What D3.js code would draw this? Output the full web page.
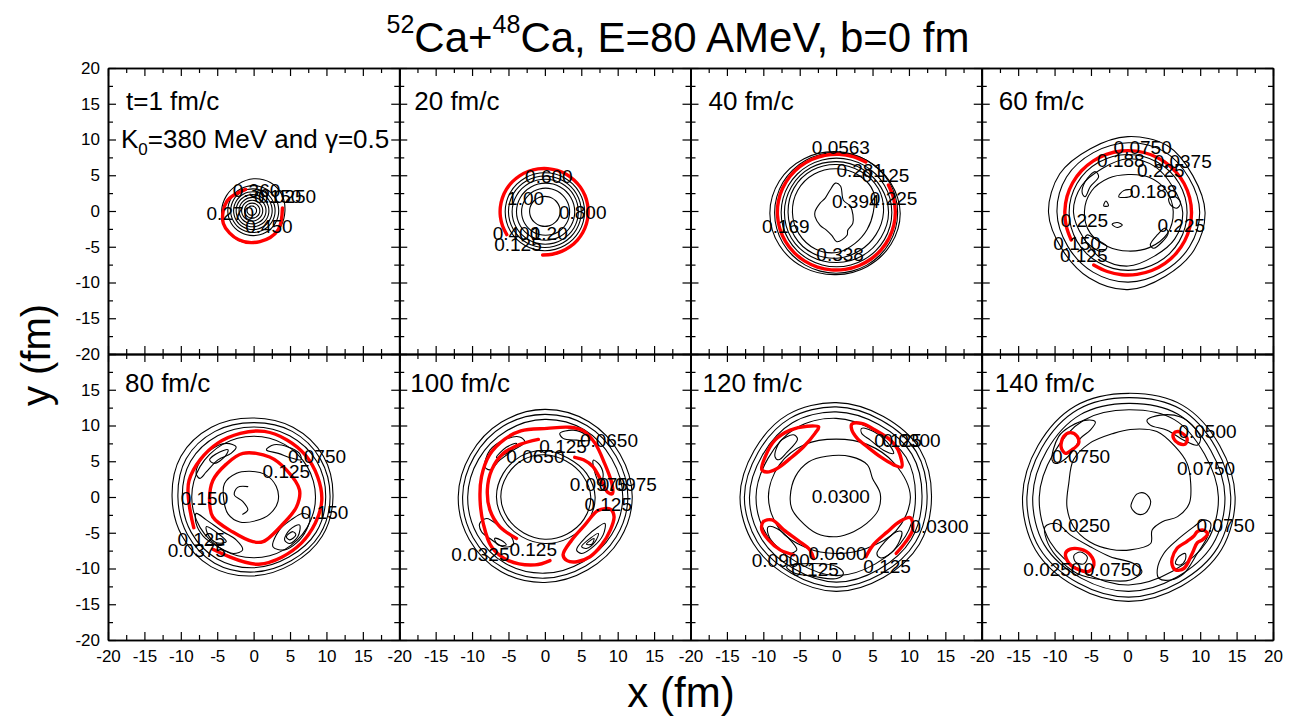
<!DOCTYPE html>
<html>
<head>
<meta charset="utf-8">
<script src="https://cdn.jsdelivr.net/npm/d3@7"></script>
<style>
  body { margin: 0; background: #fff; }
  text { font-family: "Liberation Sans", Arial, sans-serif; fill: #000; }
</style>
</head>
<body>
<svg id="chart" width="1298" height="721"></svg>
<script>
// ---- panel captions -------------------------------------------------------
const panelTimes = ["t=1 fm/c", "20 fm/c", "40 fm/c", "60 fm/c",
                    "80 fm/c", "100 fm/c", "120 fm/c", "140 fm/c"];

// ---- axis ticks (fm) ------------------------------------------------------
const majorTicks = [-20, -15, -10, -5, 0, 5, 10, 15, 20];
const minorTicks = [-17.5, -12.5, -7.5, -2.5, 2.5, 7.5, 12.5, 17.5];

// ---- density contours -----------------------------------------------------
// rings: centre c (fm) and radii r (fm) at evenly spaced polar angles;
// "span" gives the angular extent (deg) of an open contour.
// shapes: contour polylines given as (x, y) points in fm.

const rings1 = [
  {c: [0, 0], r: [4.3, 4.5, 4.6, 4.5, 4.3, 4.3, 4.4, 4.5, 4.6, 4.5, 4.3, 4.3]},
  {c: [-0.05, 0.05], r: [3.5]},
  {c: [-0.1, 0.05], r: [3.05]},
  {c: [-0.1, 0.05], r: [2.65]},
  {c: [-0.15, 0.05], r: [2.25]},
  {c: [-0.15, 0.05], r: [1.85]},
  {c: [-0.2, 0.05], r: [1.45]},
  {c: [-0.2, 0.05], r: [1.05]},
  {c: [-0.25, 0.05], r: [0.65]},
  {c: [-0.1, -0.65], r: [3.8, 4.1, 4.2, 3.9, 3.75, 4.0, 4.2], red: true, span: [105, 375]}
];
const shapes1 = [];
const labels1 = [
  {t: "0.360", x: 0.4, y: 2.9}, {t: "0.150", x: 3.3, y: 2.0}, {t: "0.0250", x: 4.6, y: 2.0},
  {t: "0.270", x: -3.2, y: -0.3}, {t: "0.450", x: 2.1, y: -2.1}
];

const rings2 = [
  {c: [0, -0.1], r: [5.45]},
  {c: [0, -0.1], r: [5.0]},
  {c: [0.05, -0.1], r: [4.55]},
  {c: [0.1, -0.1], r: [4.0]},
  {c: [0.1, -0.1], r: [3.3]},
  {c: [0, -0.05], r: [2.1]},
  {c: [-0.1, -0.1], r: [6.05], red: true, span: [-92, 212]}
];
const shapes2 = [];
const labels2 = [
  {t: "0.600", x: 0.55, y: 4.8}, {t: "1.00", x: -2.65, y: 1.8}, {t: "0.800", x: 5.2, y: -0.2},
  {t: "0.400", x: -3.9, y: -3.1}, {t: "1.20", x: 0.6, y: -3.1}, {t: "0.125", x: -3.7, y: -4.75}
];

const rings3 = [
  {c: [0, -0.3], r: [8.8, 8.6, 8.5, 8.6, 8.8, 9.0, 9.1, 9.0, 8.8, 8.6, 8.6, 8.7]},
  {c: [0, -0.25], r: [8.45]},
  {c: [0.05, -0.2], r: [7.6]},
  {c: [0.1, -0.2], r: [7.1, 7.0, 7.0, 7.1, 7.2, 7.2, 7.2, 7.2, 7.1, 7.0, 7.0, 7.0]},
  {c: [0.1, -0.2], r: [6.4, 6.6, 6.6, 6.7, 6.8, 6.8, 6.7, 6.7, 6.6, 6.4, 6.2, 6.2]},
  {c: [0.1, -0.2], r: [5.0, 5.8, 6.0, 6.1, 6.2, 6.2, 6.1, 6.0, 5.9, 5.6, 5.0, 4.8]},
  {c: [0.03, -0.16], r: [8.1], red: true, span: [60, 388]}
];
const shapes3 = [
  {pts: [[-2.9, -0.1], [-2.2, 1.1], [-1.5, 1.8], [-0.85, 2.9], [-0.1, 3.9], [0.6, 3.5], [1.0, 1.5],
         [2.0, 0.6], [2.3, -1.7], [1.6, -2.7], [1.5, -3.4], [0.1, -4.3], [-0.6, -3.4], [-1.3, -2.7],
         [-2.2, -2.0], [-2.9, -0.8]]}
];
const labels3 = [
  {t: "0.0563", x: 0.65, y: 8.9}, {t: "0.281", x: 3.3, y: 5.7}, {t: "0.125", x: 6.8, y: 5.0},
  {t: "0.394", x: 2.7, y: 1.3}, {t: "0.225", x: 7.9, y: 1.8}, {t: "0.169", x: -6.9, y: -2.2},
  {t: "0.338", x: 0.55, y: -6.15}
];

const rings4 = [
  {c: [0.07, -0.2], r: [10.6, 10.3, 10.8, 10.6, 10.3, 10.8, 10.9, 10.4, 10.6, 10.8, 10.3, 10.5]},
  {c: [0.13, -0.15], r: [9.8, 9.6, 9.8, 9.7, 9.6, 9.8, 9.8, 9.6, 9.7, 9.8, 9.6, 9.7]},
  {c: [0.1, -0.2], r: [8.1]},
  {c: [0.1, -0.2], r: [7.5, 7.1, 7.4, 7.5, 7.1, 7.4, 7.5, 7.1, 7.4, 7.5, 7.1, 7.4]},
  {c: [0.1, -0.1], r: [6.2, 6.0, 5.6, 5.2, 5.4, 5.8, 6.0, 6.0, 5.6, 5.5, 5.8, 6.2]},
  {c: [0.11, -0.25], r: [8.7], red: true, span: [237, 566]}
];
const shapes4 = [
  {pts: [[-6.2, 2.5], [-5.8, 4.1], [-4.4, 5.5], [-3.95, 4.8], [-5.1, 3.4], [-5.8, 2.0]]},
  {pts: [[3.15, -4.75], [4.1, -3.35], [5.2, -2.4], [5.6, -3.1], [4.8, -4.3], [3.6, -5.2]]},
  {pts: [[5.7, 1.8], [6.6, 2.0], [7.3, 1.1], [6.8, 0.4], [5.9, 0.9]]},
  {pts: [[-5.55, -3.35], [-4.15, -4.05], [-2.8, -5.0], [-3.5, -5.7], [-4.9, -5.0], [-5.8, -4.05]]},
  {pts: [[-1.2, 2.0], [-0.5, 2.85], [0.6, 2.9], [0.5, 2.1]]},
  {pts: [[-3.25, 0.7], [-2.95, 1.4], [-2.6, 0.75]]},
  {pts: [[-2.1, -1.86], [-1.4, -1.6], [-0.7, -1.95], [-1.4, -2.3]]}
];
const labels4 = [
  {t: "0.0750", x: 2.1, y: 8.9}, {t: "0.188", x: -0.9, y: 7.1}, {t: "0.0375", x: 7.6, y: 6.9},
  {t: "0.225", x: 4.6, y: 5.7}, {t: "0.188", x: 3.6, y: 2.7}, {t: "0.225", x: -5.9, y: -1.3},
  {t: "0.225", x: 7.4, y: -2.0}, {t: "0.150", x: -6.9, y: -4.5}, {t: "0.125", x: -6.0, y: -6.2}
];

const rings5 = [
  {c: [-0.2, 0.05], r: [11.1, 11.3, 11.2, 11.0, 11.2, 11.3, 11.0, 11.1, 11.3, 11.1, 10.9, 11.1]},
  {c: [0, 0], r: [10.5, 10.6, 10.6, 10.4, 10.6, 10.7, 10.4, 10.5, 10.7, 10.5, 10.3, 10.5]},
  {c: [0, 0], r: [9.9, 10.0, 9.9, 9.8, 9.9, 10.0, 9.8, 9.9, 10.0, 9.9, 9.7, 9.9]},
  {c: [0, 0], r: [8.5]},
  {c: [0.07, -0.07], r: [9.2, 9.35, 9.1, 9.3, 9.2, 9.35, 9.1, 9.25, 9.3], red: true, span: [232, 567]}
];
const shapes5 = [
  {red: true, pts: [[-1.47, 6.1], [2.2, 5.6], [4.5, 3.8], [6.3, 1.0], [5.9, -1.35], [4.1, -3.7], [1.3, -6.25],
                    [-0.1, -6.25], [-2.85, -4.9], [-5.6, -2.8], [-6.05, -0.5], [-5.6, 2.3], [-3.75, 4.6]]},
  {pts: [[-4.0, 1.9], [-2.4, 3.3], [-0.55, 3.6], [1.5, 3.2], [3.1, 1.5], [3.35, -0.6], [2.2, -2.4],
         [0.4, -3.3], [-1.9, -3.5], [-3.5, -2.4], [-4.1, -0.4]]},
  {open: true, pts: [[-0.8, 1.45], [-2.2, 1.35], [-2.65, 0.3], [-1.5, -0.6], [-0.8, -1.8], [-1.5, -2.4]]},
  {pts: [[-7.9, 3.3], [-7.4, 4.9], [-6.05, 6.5], [-3.75, 7.5], [-2.4, 7.0], [-3.1, 6.1], [-4.9, 5.2],
         [-6.5, 3.5], [-7.4, 2.6]]},
  {pts: [[-6.05, 5.2], [-4.65, 6.3], [-3.5, 6.6], [-4.0, 5.6], [-5.4, 4.7]]},
  {pts: [[1.75, 6.6], [2.8, 7.3], [4.7, 7.0], [6.3, 6.1], [6.5, 5.2], [5.2, 5.45], [3.4, 6.1]]},
  {pts: [[-7.9, -2.3], [-6.5, -3.2], [-4.2, -4.85], [-2.4, -6.0], [-1.5, -7.4], [-2.8, -7.9], [-5.0, -6.9],
         [-6.9, -5.5], [-7.9, -3.7]]},
  {pts: [[-6.5, -4.15], [-4.9, -5.1], [-3.75, -6.25], [-5.1, -6.4], [-6.25, -5.3]]},
  {pts: [[2.65, -6.95], [3.55, -4.6], [5.15, -3.2], [6.75, -2.3], [7.7, -2.75], [7.25, -4.6], [5.85, -6.45],
         [4.25, -7.4]]},
  {pts: [[4.25, -6.0], [4.95, -4.6], [6.3, -3.9], [6.1, -5.5], [4.95, -6.5]]},
  {pts: [[4.5, -5.55], [5.4, -4.85], [5.8, -5.3], [4.95, -6.0]]}
];
const labels5 = [
  {t: "0.0750", x: 8.7, y: 5.7}, {t: "0.125", x: 4.5, y: 3.55}, {t: "0.150", x: -6.75, y: -0.2},
  {t: "0.150", x: 9.75, y: -2.15}, {t: "0.125", x: -7.2, y: -6.0}, {t: "0.0375", x: -7.8, y: -7.5}
];

const rings6 = [
  {c: [0, 0.05], r: [12.0, 11.9, 12.1, 12.2, 12.0, 11.8, 11.9, 12.0, 12.1, 12.0, 11.8, 11.9]},
  {c: [0, 0.05], r: [11.4, 11.3, 11.5, 11.5, 11.4, 11.2, 11.3, 11.4, 11.5, 11.4, 11.2, 11.3]},
  {c: [0, 0.05], r: [10.7, 10.6, 10.8, 10.8, 10.6, 10.5, 10.6, 10.7, 10.8, 10.7, 10.5, 10.6]},
  {c: [0, 0], r: [6.9, 6.6, 6.3, 6.5, 6.6, 6.6, 6.65, 6.5, 6.4, 6.5, 6.6, 6.8]},
  {c: [0, 0], r: [6.3, 6.0, 5.8, 5.9, 6.0, 6.0, 6.05, 5.9, 5.8, 5.9, 6.0, 6.2]}
];
const shapes6 = [
  {red: true, open: true,
   pts: [[0.7, -8.9], [-1.35, -9.5], [-5.0, -8.9], [-7.3, -7.0], [-8.45, -3.75], [-8.9, -0.4], [-8.7, 2.85],
         [-7.6, 5.9], [-5.5, 8.1], [-3.3, 9.25], [0.3, 9.6], [3.4, 9.75], [5.3, 9.25], [6.9, 7.5], [8.2, 4.7],
         [9.2, 1.9], [9.3, 0.5], [8.7, 0.6], [7.8, 2.15], [6.6, 4.25], [5.3, 5.2], [4.1, 5.55]]},
  {red: true, open: true,
   pts: [[-3.9, -5.8], [-6.2, -4.15], [-7.55, -1.8], [-7.9, 1.0], [-7.3, 3.8], [-5.7, 6.1], [-3.4, 7.35], [-0.9, 8.05]]},
  {red: true,
   pts: [[2.5, -8.1], [3.7, -6.0], [5.5, -3.9], [7.3, -1.9], [9.0, -1.7], [9.5, -2.75], [9.0, -4.6], [7.8, -6.7],
         [6.2, -8.35], [4.4, -9.05], [3.05, -8.9]]},
  {pts: [[-8.25, 4.25], [-7.55, 6.55], [-5.7, 7.95], [-3.45, 8.4], [-2.75, 7.7], [-4.35, 6.55], [-6.2, 5.15], [-7.55, 3.8]]},
  {pts: [[-6.65, 5.55], [-5.3, 6.95], [-3.9, 7.5], [-4.6, 6.5]]},
  {pts: [[2.05, 8.9], [3.9, 9.35], [5.7, 8.65], [6.2, 7.95], [4.35, 7.95], [2.5, 8.2]]},
  {pts: [[6.65, 5.15], [7.55, 4.45], [8.0, 2.85], [7.55, 1.9], [6.9, 3.3]]},
  {pts: [[-8.95, -3.7], [-8.0, -3.0], [-6.2, -4.15], [-4.6, -5.55], [-4.35, -6.7], [-5.7, -6.95], [-7.55, -5.8], [-8.7, -4.85]]},
  {pts: [[-6.9, -5.8], [-6.0, -6.05], [-5.3, -6.7], [-6.45, -6.7]]},
  {pts: [[4.35, -7.4], [5.7, -5.55], [7.35, -4.15], [8.25, -3.7], [8.0, -5.3], [6.65, -6.95], [5.05, -7.9]]},
  {pts: [[5.05, -6.95], [6.2, -5.8], [7.35, -5.1], [6.9, -6.25], [5.7, -7.2]]},
  {pts: [[5.7, -6.6], [6.75, -5.8], [6.45, -6.6]]}
];
const labels6 = [
  {t: "0.125", x: 2.5, y: 7.0}, {t: "0.0650", x: 8.8, y: 7.9}, {t: "0.0650", x: -1.3, y: 5.7},
  {t: "0.0975", x: 7.4, y: 1.8}, {t: "0.0975", x: 11.4, y: 1.8}, {t: "0.125", x: 8.7, y: -1.1},
  {t: "0.0325", x: -8.85, y: -8.0}, {t: "0.125", x: -1.6, y: -7.3}
];

const rings7 = [
  {c: [0, 0], r: [13.1, 13.3, 13.0, 13.2, 13.3, 13.0, 13.2, 13.1, 12.9, 13.2, 13.0, 13.2]},
  {c: [0, 0], r: [12.5, 12.7, 12.4, 12.6, 12.7, 12.4, 12.6, 12.5, 12.3, 12.6, 12.4, 12.6]},
  {c: [0, 0], r: [11.8, 12.0, 11.7, 11.9, 12.0, 11.7, 11.9, 11.8, 11.6, 11.9, 11.7, 11.9]},
  {c: [0, 0], r: [10.9, 11.1, 10.7, 11.0, 11.1, 10.8, 11.0, 10.9, 10.6, 11.0, 10.8, 11.0]},
  {c: [0, 0], r: [10.2, 9.3, 8.5, 8.1, 8.5, 9.0, 9.3, 9.0, 8.2, 7.9, 8.3, 9.5]}
];
const shapes7 = [
  {red: true,
   pts: [[-10.2, 3.8], [-9.75, 5.6], [-8.4, 7.95], [-6.3, 9.35], [-4.0, 9.9], [-2.4, 9.8], [-2.9, 8.9],
         [-4.5, 7.0], [-6.3, 5.4], [-8.1, 4.0], [-9.5, 3.5]]},
  {red: true,
   pts: [[2.15, 10.2], [3.5, 10.3], [5.3, 9.4], [7.4, 8.0], [8.5, 6.6], [9.0, 4.2], [7.9, 4.5], [6.1, 5.6],
         [4.3, 7.0], [2.9, 8.2], [2.15, 9.4]]},
  {red: true, open: true,
   pts: [[-5.85, -8.1], [-7.7, -7.4], [-9.3, -6.0], [-10.2, -4.6], [-10.0, -3.45], [-8.8, -3.2], [-7.2, -4.6],
         [-5.2, -6.1], [-3.6, -7.4], [-3.1, -8.6]]},
  {red: true, open: true,
   pts: [[4.1, -8.35], [5.1, -6.7], [6.95, -4.95], [8.8, -3.4], [10.2, -2.9], [10.5, -4.6], [9.5, -6.35], [8.25, -7.9]]},
  {pts: [[-6.3, 0.05], [-5.6, 2.85], [-3.8, 4.9], [-1.3, 5.7], [2.0, 5.65], [4.3, 4.5], [5.0, 2.6], [6.05, 0.5],
         [5.8, -1.8], [4.2, -3.7], [2.4, -4.85], [0.1, -5.55], [-2.65, -5.1], [-5.0, -3.2], [-6.1, -1.6]]},
  {pts: [[-8.4, 5.65], [-7.7, 7.75], [-5.85, 8.7], [-5.3, 8.1], [-6.8, 6.2], [-7.9, 5.2]]},
  {pts: [[3.5, 9.6], [5.15, 9.15], [6.95, 7.75], [7.9, 6.1], [6.5, 6.55], [4.7, 7.95], [3.5, 8.9]]},
  {pts: [[-9.3, -4.15], [-8.15, -4.4], [-6.1, -6.25], [-5.4, -7.4], [-6.5, -7.9], [-8.1, -6.95], [-9.3, -5.3]]},
  {pts: [[-6.8, -9.75], [-3.1, -9.3], [0.1, -9.75], [1.0, -10.7], [0.1, -11.4], [-3.1, -11.1], [-5.85, -10.6]]},
  {pts: [[5.6, -7.9], [6.7, -6.25], [8.3, -4.85], [9.0, -4.85], [8.55, -6.5], [7.15, -8.15], [6.05, -8.5]]}
];
const labels7 = [
  {t: "0.125", x: 8.5, y: 7.9}, {t: "0.0300", x: 10.35, y: 7.9}, {t: "0.0300", x: 0.65, y: 0.05},
  {t: "0.0300", x: 14.2, y: -4.15}, {t: "0.0600", x: 0.2, y: -7.9}, {t: "0.0900", x: -7.6, y: -8.9},
  {t: "0.125", x: -2.9, y: -10.1}, {t: "0.125", x: 7.0, y: -9.75}
];

const rings8 = [
  {c: [0.2, 0], r: [14.6, 14.4, 14.8, 14.5, 14.7, 14.4, 14.6, 14.8, 14.5, 14.6, 14.4, 14.7]},
  {c: [0.2, 0], r: [14.0, 13.8, 14.2, 13.9, 14.1, 13.8, 14.0, 14.2, 13.9, 14.0, 13.8, 14.1]},
  {c: [0.2, 0], r: [13.2, 13.0, 13.4, 13.1, 13.3, 13.0, 13.2, 13.4, 13.1, 13.2, 13.0, 13.3]},
  {c: [0.2, 0], r: [12.3, 12.0, 12.5, 12.2, 12.4, 12.0, 12.3, 12.5, 12.2, 12.3, 12.0, 12.4]}
];
const shapes8 = [
  {red: true, pts: [[-8.75, 8.45], [-7.85, 9.0], [-6.9, 8.5], [-6.7, 7.5], [-7.6, 6.6], [-8.5, 6.1], [-9.1, 7.0]]},
  {red: true, pts: [[6.35, 8.9], [7.05, 9.15], [8.2, 8.2], [7.95, 7.4], [7.05, 7.5], [6.35, 8.2]]},
  {red: true, pts: [[-8.5, -7.9], [-7.85, -7.3], [-6.45, -7.3], [-5.1, -8.1], [-4.6, -9.5], [-5.3, -10.4],
                    [-6.6, -10.2], [-8.0, -9.3]]},
  {red: true, pts: [[6.15, -8.6], [6.8, -7.2], [8.2, -6.2], [9.1, -5.5], [9.6, -4.85], [10.3, -4.6], [11.0, -5.1],
                    [10.3, -6.0], [9.6, -6.4], [8.9, -7.9], [7.75, -10.0], [6.6, -10.2], [6.15, -9.5]]},
  {pts: [[-8.05, 1.9], [-7.4, 5.2], [-5.2, 7.5], [-1.9, 8.9], [0.4, 9.45], [4.05, 9.15], [6.6, 7.0], [8.2, 4.7],
         [8.7, 1.9], [8.5, -0.9], [6.9, -2.75], [4.8, -3.45], [3.4, -4.6], [3.2, -6.5], [0.4, -7.4], [-2.35, -7.3],
         [-5.2, -6.25], [-7.4, -4.15], [-8.3, -1.35]]},
  {pts: [[0.65, -0.65], [1.3, 0.4], [2.45, 0.5], [3.2, -0.65], [2.45, -2.25], [1.3, -2.35], [0.5, -1.35]]},
  {pts: [[-10.35, 5.2], [-9.45, 8.45], [-7.85, 9.85], [-5.55, 10.75], [-4.4, 10.5], [-5.1, 9.35], [-6.45, 8.2],
         [-7.4, 6.55], [-8.75, 5.15], [-9.9, 4.7]]},
  {pts: [[2.7, 10.75], [4.55, 11.45], [7.3, 11.2], [8.9, 10.05], [10.05, 8.2], [9.6, 7.25], [7.75, 7.95],
         [5.45, 9.35], [3.15, 10.05]]},
  {pts: [[-11.3, -4.15], [-9.7, -3.7], [-7.85, -5.3], [-5.1, -6.95], [-2.35, -8.35], [0.85, -9.3], [2.0, -10.45],
         [0.4, -11.6], [-3.25, -11.6], [-6.9, -10.7], [-9.7, -8.35], [-11.1, -6.0]]},
  {pts: [[-7.35, -8.2], [-6.45, -7.7], [-5.5, -8.4], [-5.95, -9.35], [-7.1, -9.1]]},
  {pts: [[4.1, -10.2], [5.0, -7.9], [6.85, -6.0], [9.15, -4.15], [10.5, -3.2], [11.45, -3.7], [11.0, -5.55],
         [9.6, -7.9], [7.75, -10.7], [5.95, -11.6], [4.35, -11.4]]},
  {pts: [[6.6, -9.3], [7.05, -8.35], [7.95, -7.9], [7.95, -8.8], [7.3, -9.5]]}
];
const labels8 = [
  {t: "0.0500", x: 11.0, y: 9.1}, {t: "0.0750", x: -6.35, y: 5.7}, {t: "0.0750", x: 10.8, y: 4.0},
  {t: "0.0750", x: 13.5, y: -4.05}, {t: "0.0250", x: -6.35, y: -4.05}, {t: "0.0250", x: -10.3, y: -10.1},
  {t: "0.0750", x: -2.0, y: -10.1}
];

const panels = [
  {time: panelTimes[0], rings: rings1, shapes: shapes1, labels: labels1},
  {time: panelTimes[1], rings: rings2, shapes: shapes2, labels: labels2},
  {time: panelTimes[2], rings: rings3, shapes: shapes3, labels: labels3},
  {time: panelTimes[3], rings: rings4, shapes: shapes4, labels: labels4},
  {time: panelTimes[4], rings: rings5, shapes: shapes5, labels: labels5},
  {time: panelTimes[5], rings: rings6, shapes: shapes6, labels: labels6},
  {time: panelTimes[6], rings: rings7, shapes: shapes7, labels: labels7},
  {time: panelTimes[7], rings: rings8, shapes: shapes8, labels: labels8}
];

// ---- layout ---------------------------------------------------------------
const plotLeft = 108, plotTop = 68, panelW = 291.25, panelH = 286;
const RED = "#ff0000";

const svg = d3.select("#chart");
const defs = svg.append("defs");

// polar ring -> list of (x, y) points in fm
function ringPoints(ring) {
  const [cx, cy] = ring.c, r = ring.r;
  const one = r.length === 1;
  if (ring.span) {
    const [a0, a1] = ring.span, n = one ? 25 : r.length;
    return d3.range(n).map(i => {
      const a = (a0 + (a1 - a0) * i / (n - 1)) * Math.PI / 180;
      const rr = one ? r[0] : r[i];
      return [cx + rr * Math.cos(a), cy + rr * Math.sin(a)];
    });
  }
  const n = one ? 24 : r.length;
  return d3.range(n).map(i => {
    const a = 2 * Math.PI * i / n;
    const rr = one ? r[0] : r[i];
    return [cx + rr * Math.cos(a), cy + rr * Math.sin(a)];
  });
}

panels.forEach((p, i) => {
  const col = i % 4, row = Math.floor(i / 4);
  const x0 = plotLeft + col * panelW, y0 = plotTop + row * panelH;
  const x = d3.scaleLinear().domain([-20, 20]).range([x0, x0 + panelW]);
  const y = d3.scaleLinear().domain([-20, 20]).range([y0 + panelH, y0]);

  const clipId = "panel-clip-" + i;
  defs.append("clipPath").attr("id", clipId)
    .append("rect").attr("x", x0).attr("y", y0).attr("width", panelW).attr("height", panelH);

  const g = svg.append("g");
  const cg = g.append("g").attr("clip-path", `url(#${clipId})`).attr("fill", "none");

  const closedLine = d3.line().x(d => x(d[0])).y(d => y(d[1])).curve(d3.curveCatmullRomClosed.alpha(0.5));
  const openLine = d3.line().x(d => x(d[0])).y(d => y(d[1])).curve(d3.curveCatmullRom.alpha(0.5));

  const items = [
    ...p.rings.map(r => ({pts: ringPoints(r), red: !!r.red, open: !!r.span})),
    ...p.shapes.map(s => ({pts: s.pts, red: !!s.red, open: !!s.open}))
  ];
  // black contour lines beneath, the highlighted red level on top
  const ordered = items.filter(d => !d.red).concat(items.filter(d => d.red));
  cg.selectAll("path.contour").data(ordered).join("path")
    .attr("class", "contour")
    .attr("d", d => d.open ? openLine(d.pts) : closedLine(d.pts))
    .attr("stroke", d => d.red ? RED : "#000")
    .attr("stroke-width", d => d.red ? 3.4 : 1.1)
    .attr("stroke-linejoin", "round")
    .attr("stroke-linecap", "round");

  // contour level labels
  g.selectAll("text.level").data(p.labels).join("text")
    .attr("class", "level")
    .attr("x", d => x(d.x)).attr("y", d => y(d.y))
    .attr("text-anchor", "middle")
    .attr("dominant-baseline", "central")
    .attr("font-size", 19)
    .text(d => d.t);

  // frame with inward ticks on all four sides
  const styleAxis = sel => {
    sel.attr("font-size", 17).attr("font-family", '"Liberation Sans", Arial, sans-serif');
    sel.select(".domain").attr("stroke-width", 1.6).attr("stroke", "#000");
    sel.selectAll(".tick line").attr("stroke-width", 1.2).attr("stroke", "#000");
    sel.selectAll(".tick text").attr("fill", "#000");
  };
  const xLab = d => (row === 1 && (d < 20 || col === 3)) ? String(d) : "";
  const yLab = d => (col === 0 && (d < 20 || row === 0)) ? String(d) : "";

  g.append("g").attr("transform", `translate(0,${y(-20)})`)
    .call(d3.axisBottom(x).tickValues(minorTicks).tickSize(-5).tickSizeOuter(0).tickFormat(""))
    .call(styleAxis);
  g.append("g").attr("transform", `translate(0,${y(-20)})`)
    .call(d3.axisBottom(x).tickValues(majorTicks).tickSize(-8).tickSizeOuter(0).tickPadding(10).tickFormat(xLab))
    .call(styleAxis);
  g.append("g").attr("transform", `translate(0,${y(20)})`)
    .call(d3.axisTop(x).tickValues(minorTicks).tickSize(-5).tickSizeOuter(0).tickFormat(""))
    .call(styleAxis);
  g.append("g").attr("transform", `translate(0,${y(20)})`)
    .call(d3.axisTop(x).tickValues(majorTicks).tickSize(-8).tickSizeOuter(0).tickFormat(""))
    .call(styleAxis);
  g.append("g").attr("transform", `translate(${x(-20)},0)`)
    .call(d3.axisLeft(y).tickValues(minorTicks).tickSize(-5).tickSizeOuter(0).tickFormat(""))
    .call(styleAxis);
  g.append("g").attr("transform", `translate(${x(-20)},0)`)
    .call(d3.axisLeft(y).tickValues(majorTicks).tickSize(-8).tickSizeOuter(0).tickPadding(8).tickFormat(yLab))
    .call(styleAxis);
  g.append("g").attr("transform", `translate(${x(20)},0)`)
    .call(d3.axisRight(y).tickValues(minorTicks).tickSize(-5).tickSizeOuter(0).tickFormat(""))
    .call(styleAxis);
  g.append("g").attr("transform", `translate(${x(20)},0)`)
    .call(d3.axisRight(y).tickValues(majorTicks).tickSize(-8).tickSizeOuter(0).tickFormat(""))
    .call(styleAxis);

  // time caption
  const capY = row === 0 ? 42 : 38;
  const capX = [18, 15, 18, 17, 17, 11, 12, 13][i];
  g.append("text").attr("x", x0 + capX).attr("y", y0 + capY)
    .attr("font-size", 26).text(p.time);

  if (i === 0) {
    const t = g.append("text").attr("x", x0 + 13).attr("y", y0 + 80).attr("font-size", 26);
    t.append("tspan").text("K");
    t.append("tspan").attr("font-size", 17).attr("dy", 7).text("0");
    t.append("tspan").attr("dy", -7).text("=380 MeV and \u03b3=0.5");
  }
});

// ---- titles ---------------------------------------------------------------
const title = svg.append("text").attr("x", 678).attr("y", 52)
  .attr("text-anchor", "middle").attr("font-size", 42);
title.append("tspan").attr("font-size", 25).attr("dy", -19).text("52");
title.append("tspan").attr("dy", 19).text("Ca+");
title.append("tspan").attr("font-size", 25).attr("dy", -19).text("48");
title.append("tspan").attr("dy", 19).text("Ca, E=80 AMeV, b=0 fm");

svg.append("text").attr("x", 681).attr("y", 707)
  .attr("text-anchor", "middle").attr("font-size", 42).text("x (fm)");

svg.append("text").attr("transform", "translate(50,355) rotate(-90)")
  .attr("text-anchor", "middle").attr("font-size", 40).text("y (fm)");
</script>
</body>
</html>
